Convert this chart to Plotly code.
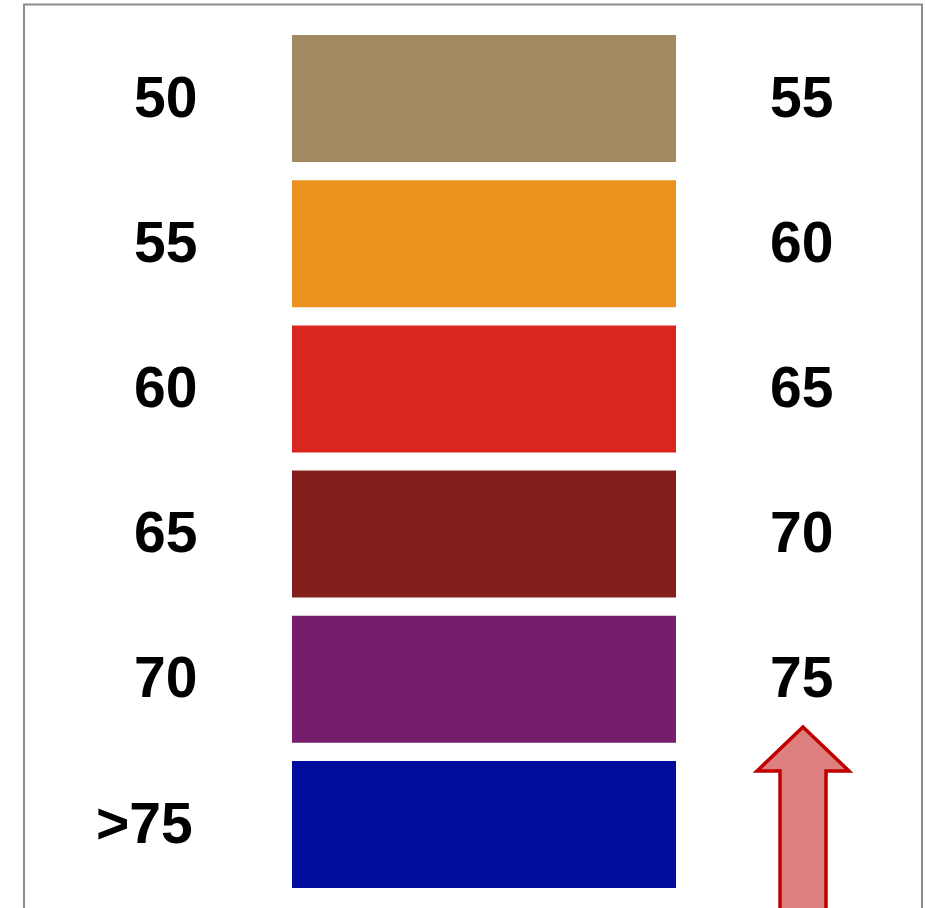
import plotly.graph_objects as go

# Data
categories = ["50", "55", "60", "65", "70", ">75"]
upper_labels = ["55", "60", "65", "70", "75", ""]
colors = ["#A2895F", "#EA911E", "#D9261E", "#84201B", "#761D6D", "#000C9E"]
span_start = 292
span_width = 384

W, H = 926, 908
pitch = 145.2
c0 = 98.5
y_top = -c0 / pitch
y_bot = (H - c0) / pitch

def px(x):
    return x / W

def py(y):
    return 1 - y / H

fig = go.Figure()
fig.add_trace(go.Bar(
    y=list(range(len(categories))),
    x=[span_width] * len(categories),
    base=[span_start] * len(categories),
    orientation="h",
    marker=dict(color=colors, line=dict(width=0)),
    width=127 / pitch,
    hoverinfo="skip",
    showlegend=False,
))

font = dict(family="Liberation Sans, Arial, sans-serif", size=57, color="black")
ann = []
for i, lab in enumerate(categories):
    ann.append(dict(x=199 if i < 5 else 195, y=i, xref="x", yref="y", text="<b>%s</b>" % lab,
                    showarrow=False, xanchor="right", yanchor="middle", font=font, yshift=2))
for i, lab in enumerate(upper_labels):
    if lab:
        ann.append(dict(x=801, y=i, xref="x", yref="y", text="<b>%s</b>" % lab,
                        showarrow=False, xanchor="center", yanchor="middle", font=font, yshift=2))

shapes = [
    dict(type="rect", xref="paper", yref="paper", x0=px(24), x1=px(922), y0=py(930), y1=py(4.5),
         line=dict(color="#8C8C8C", width=2), fillcolor="rgba(0,0,0,0)", layer="above"),
]
# arrow
pts = [(803, 727), (849, 771), (826, 771), (826, 930), (780, 930), (780, 771), (757, 771)]
path = "M " + " L ".join("%f,%f" % (px(a), py(b)) for a, b in pts) + " Z"
shapes.append(dict(type="path", xref="paper", yref="paper", path=path,
                   fillcolor="#DE7F7F", line=dict(color="#C00000", width=3.5)))

fig.update_layout(
    width=W, height=H,
    margin=dict(l=0, r=0, t=0, b=0),
    paper_bgcolor="white", plot_bgcolor="white",
    xaxis=dict(range=[0, W], visible=False, fixedrange=True),
    yaxis=dict(range=[y_bot, y_top], visible=False, fixedrange=True),
    annotations=ann,
    shapes=shapes,
)
fig.write_html("out.html",
               config={"displayModeBar": False, "staticPlot": True},
               post_script="document.body.style.margin='0';document.body.style.overflow='hidden';")
